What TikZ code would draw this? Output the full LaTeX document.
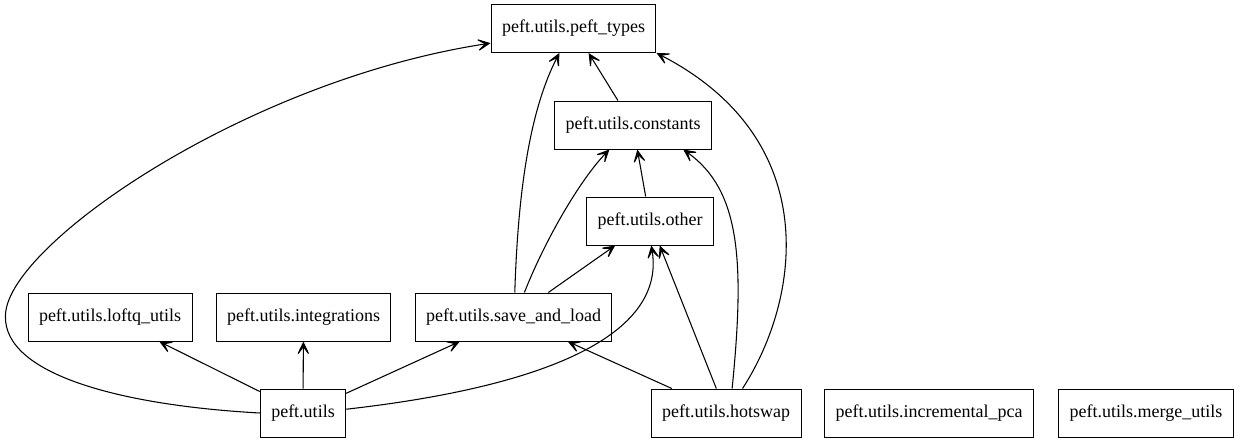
\documentclass[tikz,border=0pt]{standalone}
\usepackage{fontspec}
\setmainfont{Liberation Serif}
\usetikzlibrary{arrows.meta}

\begin{document}
\begin{tikzpicture}[x=0.75pt, y=-0.75pt,
	mod/.style={draw, line width=0.75pt, inner xsep=8.25pt, minimum height=36pt, font=\fontsize{13.5}{16}\selectfont},
	dep/.style={line width=0.8pt, -{Stealth[length=12.5pt, width=12pt, inset=8pt]}}]
	\useasboundingbox (0,0) rectangle (1241,443);

	% modules, one row per level
	\node[mod] (types) at (573.5,28.5) {peft.utils.peft\_types};
	\node[mod] (const) at (633,125) {peft.utils.constants};
	\node[mod] (other) at (650,221) {peft.utils.other};
	\node[mod] (loftq) at (110,317) {peft.utils.loftq\_utils};
	\node[mod] (integ) at (303.5,317) {peft.utils.integrations};
	\node[mod] (save) at (513.5,317) {peft.utils.save\_and\_load};
	\node[mod] (utils) at (303,413) {peft.utils};
	\node[mod] (hotswap) at (726,413) {peft.utils.hotswap};
	\node[mod] (pca) at (929,413) {peft.utils.incremental\_pca};
	\node[mod] (merge) at (1146,413) {peft.utils.merge\_utils};

	% straight imports
	\foreach \a/\b in {utils/loftq, utils/integ, utils/save, save/other, const/types, other/const, hotswap/save, hotswap/other}
		\draw[dep] (\a) -- (\b);

	% curved imports
	\draw[dep] (utils.west) .. controls (115,405) and (-4,372) .. (6,310) .. controls (18,238) and (250,80) .. (types.190);
	\draw[dep] (utils.5) .. controls (560,385) and (665,330) .. (other.273);
	\draw[dep] (save.87) .. controls (518,190) and (530,110) .. (types.240);
	\draw[dep] (save.66) .. controls (545,240) and (580,180) .. (const.226);
	\draw[dep] (hotswap.76) .. controls (745,260) and (740,190) .. (const.334);
	\draw[dep] (hotswap.56) .. controls (800,300) and (825,140) .. (types.south east);
\end{tikzpicture}
\end{document}
